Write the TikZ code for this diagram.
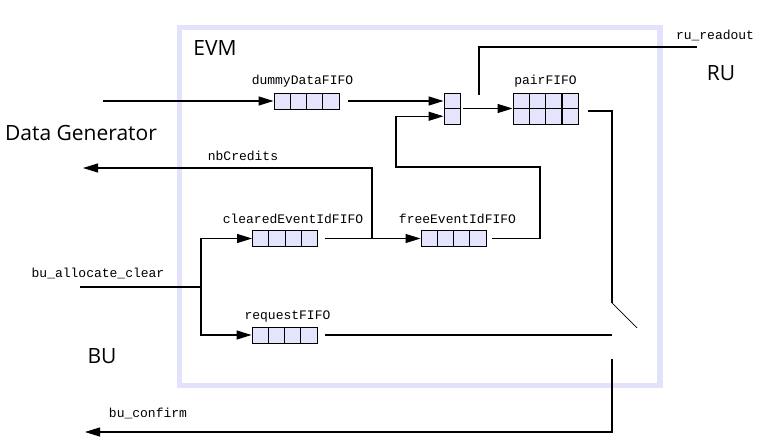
\documentclass[tikz,border=0pt]{standalone}
\usepackage{fontspec}
\setmainfont{Open Sans}
\newfontfamily\sigfont{Liberation Mono}
\usetikzlibrary{arrows.meta,positioning,calc}
\definecolor{evmframe}{RGB}{226,226,250}
\definecolor{cellfill}{RGB}{228,228,252}

\begin{document}
\begin{tikzpicture}[x=1pt, y=-1pt, line width=1.1pt,
    cellbox/.style={draw, fill=cellfill, line width=0.9pt, inner sep=0pt},
    fifo/.style={cellbox, minimum width=65pt, minimum height=16pt,
      path picture={\foreach \k in {1,2,3}
        \draw[line width=0.9pt] ([xshift=\k*16.25pt]path picture bounding box.north west)
          -- ([xshift=\k*16.25pt]path picture bounding box.south west);}},
    pairbox/.style={cellbox, minimum width=65pt, minimum height=31pt,
      path picture={\foreach \k/\w in {1/0.9pt,2/0.9pt,3/1.8pt}
        \draw[line width=\w] ([xshift=\k*16.25pt]path picture bounding box.north west)
          -- ([xshift=\k*16.25pt]path picture bounding box.south west);
        \draw[line width=0.9pt] (path picture bounding box.west) -- (path picture bounding box.east);}},
    muxbox/.style={cellbox, minimum width=16pt, minimum height=31pt,
      path picture={\draw[line width=0.9pt] (path picture bounding box.west) -- (path picture bounding box.east);}},
    sig/.style={font=\sigfont\fontsize{13}{15}\selectfont, inner sep=0pt, text height=9pt, text depth=2.5pt},
    blocklbl/.style={font=\fontsize{21}{24}\selectfont, inner sep=0pt},
    arr/.style={-{Triangle[length=15pt,width=9pt]}},
  ]
  \useasboundingbox (0,0) rectangle (767,446);
  \node[draw=evmframe, line width=5.5pt, minimum width=480.5pt, minimum height=358pt, inner sep=0pt] (evm) at (419.75,206.5) {};
  \node[blocklbl] (evmlbl) at (215,48) {EVM};
  \node[blocklbl] (dg) at (81,133) {Data Generator};
  \node[blocklbl] (ru) at (721,73) {RU};
  \node[blocklbl] (bu) at (102,356) {BU};

  \node[fifo] (dummy) at (306.5,101) {};
  \node[muxbox] (mux) at (452,108.5) {};
  \node[pairbox] (pair) at (545.5,108.5) {};
  \node[fifo] (cleared) at (285,238.5) {};
  \node[fifo] (free) at (453.5,238.5) {};
  \node[fifo] (req) at (284.5,335) {};

  \node[sig, above=5pt of dummy, xshift=-4pt] (dummylbl) {dummyDataFIFO};
  \node[sig, above=5pt of pair] (pairlbl) {pairFIFO};
  \node[sig, above=4pt of cleared, xshift=8pt] (clearedlbl) {clearedEventIdFIFO};
  \node[sig, above=4pt of free, xshift=4pt] (freelbl) {freeEventIdFIFO};
  \node[sig, above=4pt of req, xshift=3pt] (reqlbl) {requestFIFO};
  \node[sig] (credlbl) at (243,157) {nbCredits};
  \node[sig] (balbl) at (98,274) {bu\_allocate\_clear};
  \node[sig] (cfmlbl) at (148,414) {bu\_confirm};
  \node[sig] (rulbl) at (715,36) {ru\_readout};

  \coordinate (dgin) at (103,101);
  \coordinate (loopne) at (540,167);
  \coordinate (loopnw) at (396,167);
  \coordinate (rutap) at (479,95);
  \coordinate (ruout) at (697,47);
  \coordinate (swtop) at (612,303);
  \coordinate (swtip) at (637,328);
  \coordinate (swin) at (612,335);
  \coordinate (swout) at (612,359);
  \coordinate (bucfm) at (85,432);
  \coordinate (credtap) at (372,238.5);
  \coordinate (credout) at (83,168);
  \coordinate (bain) at (80,287);
  \coordinate (bajoin) at (201,287);

  \draw[arr] (dgin) -- (dummy.west);
  \draw[arr] ([xshift=9pt]dummy.east) -- (mux.west |- dummy.east);
  \draw[arr] ([xshift=6pt]free.east) -| (loopne) -- (loopnw) |- ([yshift=-7.75pt]mux.west);
  \draw[arr] ([xshift=3pt]mux.east) -- (pair.west);
  \draw (rutap) |- (ruout);
  \draw ([xshift=10pt,yshift=-2.5pt]pair.east) -| (swtop);
  \draw[line width=0.7pt] (swtop) -- (swtip);
  \draw ([xshift=8pt]req.east) -- (swin);
  \draw[arr] (swout) |- (bucfm);
  \draw[arr] (credtap) |- (credout);
  \draw[arr] ([xshift=7pt]cleared.east) -- (free.west);
  \draw (bain) -- (bajoin);
  \draw[arr] (bajoin) |- (cleared.west);
  \draw[arr] (bajoin) |- (req.west);
\end{tikzpicture}
\end{document}
